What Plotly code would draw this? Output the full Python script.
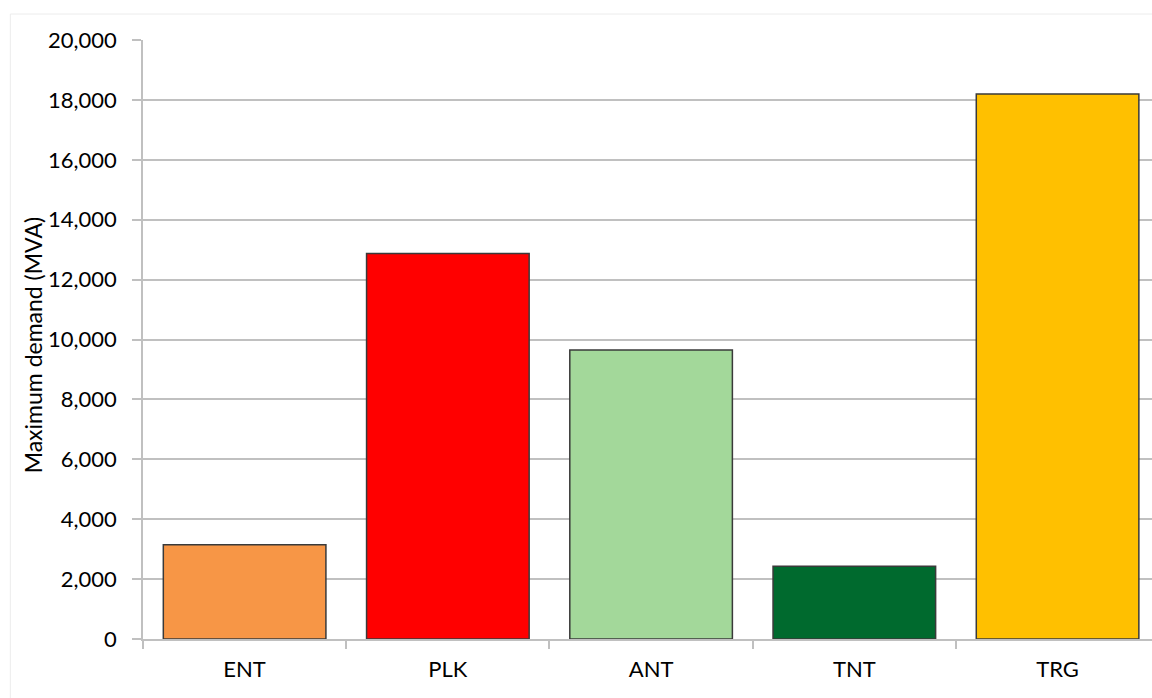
import plotly.graph_objects as go

categories = ["ENT", "PLK", "ANT", "TNT", "TRG"]
max_demand = [3150, 12870, 9650, 2430, 18200]
bar_colors = ["#F79646", "#FF0000", "#A3D89A", "#006A2E", "#FFC000"]

W, H = 1152, 698
L, T, B = 142.7, 40, 59
plot_w = W - L
plot_h = H - T - B

fig = go.Figure(
    go.Bar(
        x=categories,
        y=max_demand,
        marker=dict(color=bar_colors, line=dict(color="#3a3a3a", width=1.5)),
    )
)

font_family = "Lato, 'Open Sans', sans-serif"
grid_col = "#c0c0c0"

fig.update_layout(
    width=W,
    height=H,
    margin=dict(l=L, r=0, t=T, b=B, pad=0),
    paper_bgcolor="white",
    plot_bgcolor="white",
    bargap=0.2,
    showlegend=False,
    font=dict(family=font_family, color="#000000", size=22),
)

fig.update_xaxes(
    range=[-0.5, -0.5 + plot_w / 203.3],
    showline=True,
    linecolor=grid_col,
    linewidth=1.5,
    ticks="outside",
    tickson="boundaries",
    ticklen=8,
    tickcolor=grid_col,
    tickwidth=1.5,
    showgrid=False,
    tickfont=dict(size=22, family=font_family, color="#000000"),
    ticklabelstandoff=10,
)

fig.update_yaxes(
    range=[0, 20000],
    dtick=2000,
    tickformat=",",
    showgrid=True,
    gridcolor=grid_col,
    gridwidth=1.5,
    showline=True,
    linecolor=grid_col,
    linewidth=1.5,
    zeroline=False,
    ticks="outside",
    ticklen=9,
    tickcolor=grid_col,
    tickwidth=1.5,
    tickfont=dict(size=22, family=font_family, color="#000000"),
    ticklabelstandoff=11,
)

# y axis title as rotated annotation
fig.add_annotation(
    text="Maximum demand (MVA)",
    xref="paper", yref="paper",
    x=(33 - L) / plot_w, y=(H - B - 345) / plot_h,
    xanchor="center", yanchor="middle",
    textangle=-90,
    showarrow=False,
    font=dict(size=23, family=font_family, color="#000000"),
)

# faint outer chart border
fig.add_shape(
    type="rect", xref="paper", yref="paper",
    x0=(10 - L) / plot_w, x1=1.05,
    y0=-0.2, y1=(H - B - 14) / plot_h,
    line=dict(color="#ececec", width=1),
    layer="below",
)
# axis line extension below zero (Excel style)
fig.add_shape(
    type="line", xref="paper", yref="paper",
    x0=0, x1=0, y0=0, y1=-8 / plot_h,
    line=dict(color=grid_col, width=1.5),
)

fig.write_html("out.html")
